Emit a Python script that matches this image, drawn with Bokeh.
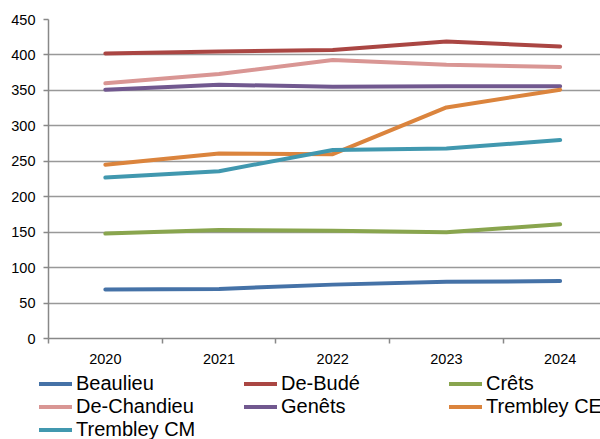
from bokeh.plotting import figure
from bokeh.layouts import column, row
from bokeh.models import Range1d, FixedTicker, Legend, LegendItem
from bokeh.embed import file_html
from bokeh.resources import INLINE

years = ["2020", "2021", "2022", "2023", "2024"]
beaulieu = [69, 70, 76, 80, 81]
de_bude = [402, 405, 407, 419, 412]
crets = [148, 153, 152, 150, 161]
de_chandieu = [360, 373, 393, 386, 383]
genets = [351, 358, 355, 356, 356]
trembley_ce = [245, 261, 260, 326, 351]
trembley_cm = [227, 236, 266, 268, 280]

names = ["Beaulieu", "De-Budé", "Crêts", "De-Chandieu", "Genêts", "Trembley CE", "Trembley CM"]
series = [beaulieu, de_bude, crets, de_chandieu, genets, trembley_ce, trembley_cm]
colors = ["#4572A7", "#AA4643", "#89A54E", "#D99694", "#71588F", "#DB843D", "#4198AF"]

FONT = "Liberation Sans"
H1 = 366

p = figure(width=600, height=H1, output_backend="svg", toolbar_location=None,
           x_range=Range1d(0, 4.855), y_range=Range1d(0, 450),
           min_border_left=48, min_border_right=0, min_border_top=19,
           min_border_bottom=H1 - 338)
p.outline_line_color = None

xs = [i + 0.5 for i in range(len(years))]
for name, vals, col in zip(names, series, colors):
    p.line(xs, vals, line_color=col, line_width=4, line_cap="round", line_join="round")

# x axis
p.xaxis.ticker = FixedTicker(ticks=xs, minor_ticks=list(range(len(years) + 1)))
p.xaxis.major_label_overrides = {x: y for x, y in zip(xs, years)}
p.xaxis.major_tick_out = 0
p.xaxis.major_tick_in = 0
p.xaxis.minor_tick_out = 5
p.xaxis.minor_tick_in = 0
p.xaxis.minor_tick_line_color = "#888888"
p.xaxis.minor_tick_line_width = 1.5
p.xaxis.major_label_standoff = 10
p.xgrid.visible = False

# y axis
p.yaxis.ticker = FixedTicker(ticks=list(range(0, 451, 50)))
p.yaxis.major_tick_out = 5
p.yaxis.major_tick_in = 0
p.yaxis.minor_tick_out = 0
p.yaxis.major_tick_line_color = "#888888"
p.yaxis.major_tick_line_width = 1.5
p.yaxis.major_label_standoff = 8
p.ygrid.ticker = FixedTicker(ticks=list(range(0, 451, 50)))
p.ygrid.grid_line_color = "#999999"
p.ygrid.grid_line_width = 1.5

for ax in (p.xaxis, p.yaxis):
    ax.axis_line_color = "#888888"
    ax.axis_line_width = 1.5
    ax.major_label_text_font = FONT
    ax.major_label_text_font_size = "14.5px"
    ax.major_label_text_color = "#000000"

# legend strip (its range keeps the series themselves out of view; only the legend shows)
H2 = 439 - H1
q = figure(width=600, height=H2, output_backend="svg", toolbar_location=None,
           x_range=Range1d(0, 1), y_range=Range1d(-2, -1),
           x_axis_location=None, y_axis_location=None, min_border=0)
q.outline_line_color = None
q.xgrid.visible = False
q.ygrid.visible = False
items = []
for name, vals, col in zip(names, series, colors):
    r = q.line(xs, vals, line_color=col, line_width=4, line_cap="round")
    items.append(LegendItem(label=name, renderers=[r]))

legend = Legend(items=items, location=(39, -2), ncols=3, orientation="horizontal",
                padding=0, margin=0, spacing=0,
                glyph_width=33, glyph_height=23, label_height=23, label_width=168,
                label_standoff=4, label_text_font=FONT, label_text_font_size="20px",
                label_text_color="#000000", border_line_alpha=0, background_fill_alpha=0)
q.add_layout(legend, "center")

layout = column(p, row(q), spacing=0)
open("out.html", "w").write(file_html(layout, INLINE))
